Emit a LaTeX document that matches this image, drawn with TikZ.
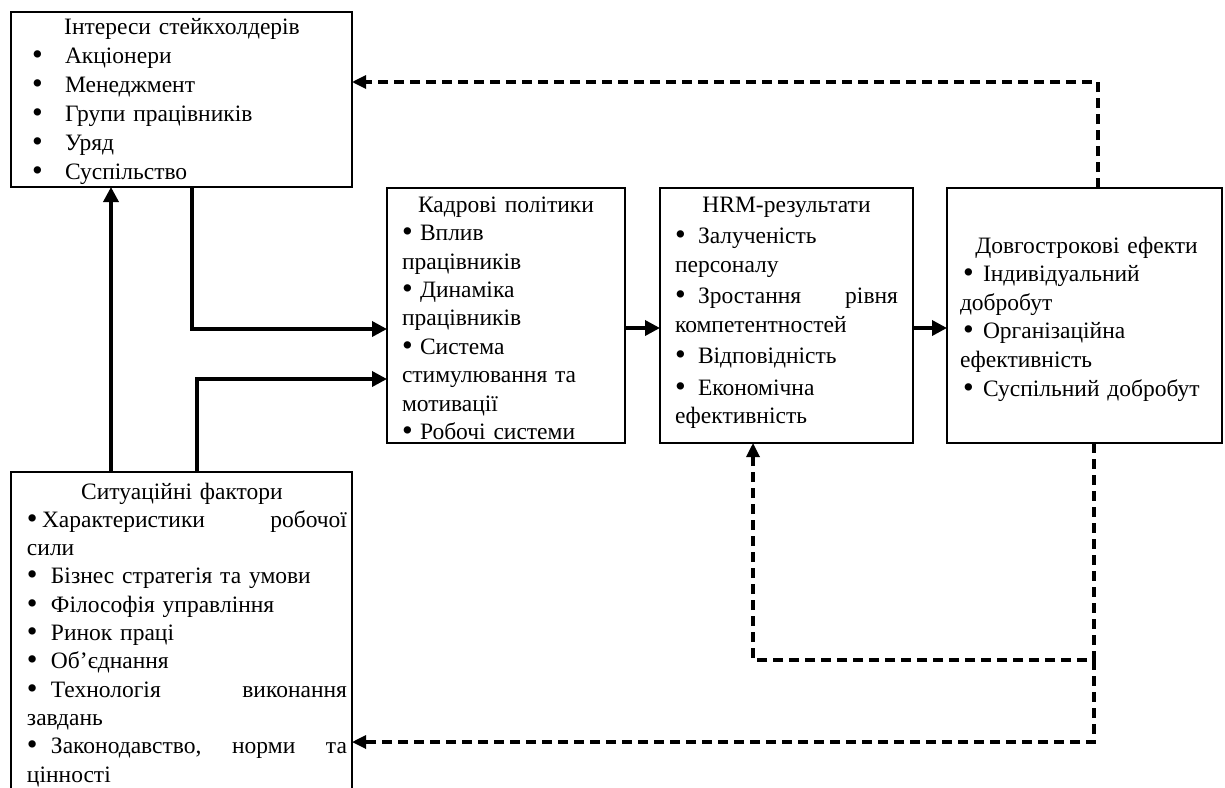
\documentclass[tikz,border=0pt]{standalone}
\usepackage{fontspec}
\usepackage{graphicx}
\setmainfont{Liberation Serif}
\usetikzlibrary{arrows.meta,calc}
\newcommand\bfnt[1]{\fontsize{23.5pt}{#1pt}\selectfont}
\newcommand\bul[1]{\makebox[#1pt][l]{\raisebox{-1pt}{\scalebox{1.3}{•}}}}
\newcommand\ttl[2]{\makebox[#1pt][c]{\strut #2}}
\begin{document}
\begin{tikzpicture}[x=1pt,y=-1pt,
 box/.style={draw,line width=1.8pt,inner sep=0pt,outer sep=0pt,anchor=north west},
 txt/.style={anchor=north west,inner sep=0pt,outer sep=0pt,align=left},
 arr/.style={line width=3.5pt,-{Triangle[length=15pt,width=15pt]}},
 darr/.style={line width=3.2pt,dash pattern=on 10pt off 6pt,-{Triangle[length=14pt,width=13pt]}}]
\fill[white] (0,0) rectangle (1225,787);
\clip (0,0) rectangle (1225,787);
\useasboundingbox (0,0) rectangle (1225,787);

% boxes
\node[box,minimum width=341pt,minimum height=175pt] (stake) at (11,12) {};
\node[box,minimum width=238pt,minimum height=255pt] (kad) at (387,188) {};
\node[box,minimum width=253pt,minimum height=255pt] (hrm) at (660,188) {};
\node[box,minimum width=275pt,minimum height=255pt] (long) at (947,188) {};
\node[box,minimum width=341pt,minimum height=340pt] (sit) at (11,472) {};

% texts
\node[txt,text width=300pt,font=\bfnt{29}] (staket) at (32,14.5) {\ttl{300}{Інтереси стейкхолдерів}\\
\bul{33}Акціонери\\
\bul{33}Менеджмент\\
\bul{33}Групи працівників\\
\bul{33}Уряд\\
\bul{33}Суспільство};

\node[txt,text width=208pt,font=\bfnt{28.4}] (kadt) at (402,192.5) {\ttl{208}{Кадрові політики}\\
\bul{18}Вплив\\
працівників\\
\bul{18}Динаміка\\
працівників\\
\bul{18}Система\\
стимулювання та\\
мотивації\\
\bul{18}Робочі системи};

\node[txt,text width=223pt,font=\bfnt{28.5}] (hrmt) at (675,192.5) {\ttl{223}{HRM-результати}\\[3pt]
\bul{23}Залученість\\
персоналу\\[3pt]
\bul{23}Зростання\hfill рівня\\
компетентностей\\[3pt]
\bul{23}Відповідність\\[3pt]
\bul{23}Економічна\\
ефективність};

\node[txt,text width=253pt,font=\bfnt{28.6}] (longt) at (960,233) {\ttl{253}{Довгострокові ефекти}\\
\hspace*{3pt}\bul{20}Індивідуальний\\
добробут\\
\hspace*{3pt}\bul{20}Організаційна\\
ефективність\\
\hspace*{3pt}\bul{20}Суспільний добробут};

\node[txt,text width=320pt,font=\bfnt{28.3}] (sitt) at (27,479.2) {\ttl{310}{Ситуаційні фактори}\\
\bul{15}Характеристики\hfill робочої\\
сили\\
\bul{24}Бізнес стратегія та умови\\
\bul{24}Філософія управління\\
\bul{24}Ринок праці\\
\bul{24}Об’єднання\\
\bul{24}Технологія\hfill виконання\\
завдань\\
\bul{24}Законодавство,\hfill норми\hfill та\\
цінності};

% solid connectors
\draw[arr] ($(sit.north west)+(100,0)$) -- ($(stake.south west)+(100,0)$);
\draw[arr] ($(stake.south west)+(181,0)$) |- ($(kad.north west)+(0,141)$);
\draw[arr] ($(sit.north west)+(186,0)$) |- ($(kad.north west)+(0,191)$);
\draw[arr] ($(kad.north east)+(0,140)$) -- ($(hrm.north west)+(0,140)$);
\draw[arr] ($(hrm.north east)+(0,140)$) -- ($(long.north west)+(0,140)$);

% dashed connectors
\draw[darr] ($(long.north west)+(151,0)$) |- ($(stake.north east)+(0,70)$);
\coordinate (split) at ($(long.south west)+(147,217)$);
\draw[darr] (long.south -| split) -- (split) -| ($(hrm.south west)+(93,0)$);
\draw[darr] (split) |- ($(sit.north east)+(0,270)$);
\end{tikzpicture}
\end{document}
